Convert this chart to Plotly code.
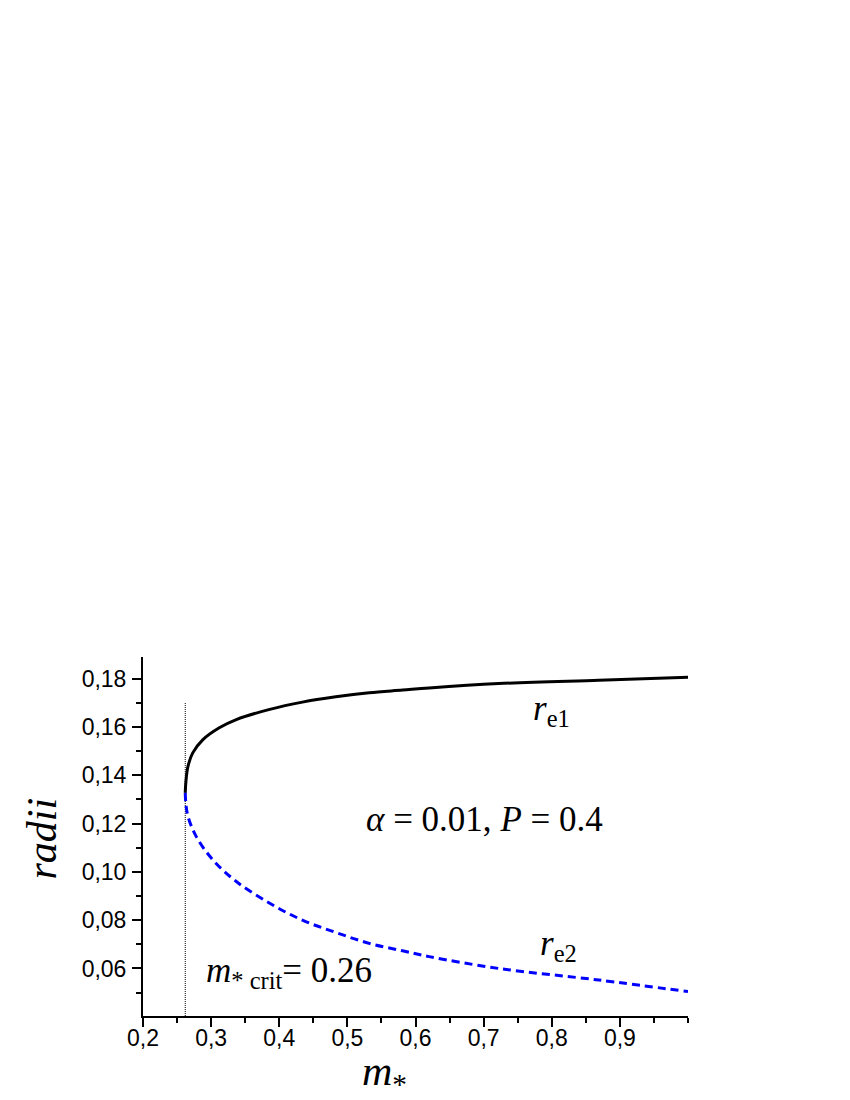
import plotly.graph_objects as go

# values
m_e1 = [0.262, 0.263, 0.266, 0.273, 0.288, 0.312, 0.337, 0.386, 0.434, 0.483,
        0.532, 0.581, 0.620, 0.722, 0.869, 1.0]
r_e1 = [0.1327, 0.1375, 0.1437, 0.1493, 0.1548, 0.1597, 0.1631, 0.1673, 0.1703,
        0.1725, 0.1742, 0.1753, 0.1762, 0.1780, 0.1794, 0.1806]

m_e2 = [0.262, 0.263, 0.266, 0.278, 0.3025, 0.337, 0.386, 0.434, 0.483, 0.532,
        0.581, 0.620, 0.722, 0.869, 1.0]
r_e2 = [0.1327, 0.1280, 0.1230, 0.1147, 0.1050, 0.0960, 0.0870, 0.0800, 0.0749,
        0.0704, 0.0673, 0.0649, 0.0600, 0.0552, 0.0504]

m_crit = [0.262, 0.262]
crit_line = [0.0403, 0.170]

x_ticks = [0.2, 0.3, 0.4, 0.5, 0.6, 0.7, 0.8, 0.9]
x_labels = ["0,2", "0,3", "0,4", "0,5", "0,6", "0,7", "0,8", "0,9"]
y_ticks = [0.06, 0.08, 0.10, 0.12, 0.14, 0.16, 0.18]
y_labels = ["0,06", "0,08", "0,10", "0,12", "0,14", "0,16", "0,18"]

serif = "Liberation Serif, Times New Roman, serif"
sans = "Liberation Sans, Arial, sans-serif"

fig = go.Figure()
fig.add_trace(go.Scatter(x=m_crit, y=crit_line, mode="lines",
                         line=dict(color="black", width=1, dash="1px,1px")))
fig.add_trace(go.Scatter(x=m_e1, y=r_e1, mode="lines", line_shape="spline",
                         line=dict(color="black", width=3)))
fig.add_trace(go.Scatter(x=m_e2, y=r_e2, mode="lines", line_shape="spline",
                         line=dict(color="#0000ff", width=3, dash="8px,5px")))

axis_common = dict(showline=True, linecolor="black", linewidth=2, ticks="outside",
                   ticklen=9, tickwidth=1.5, tickcolor="black", showgrid=False,
                   zeroline=False, mirror=False, automargin=False,
                   tickfont=dict(family=sans, size=23, color="black"))

fig.update_xaxes(range=[0.2, 1.0], tickvals=x_ticks, ticktext=x_labels,
                 ticklabelstandoff=-9,
                 minor=dict(ticks="outside", ticklen=5, tickwidth=1.5,
                            tickcolor="black", dtick=0.05, tick0=0.2),
                 **axis_common)
fig.update_yaxes(range=[0.0403, 0.189], tickvals=y_ticks, ticktext=y_labels,
                 ticklabelstandoff=1,
                 minor=dict(ticks="outside", ticklen=5, tickwidth=1.5,
                            tickcolor="black", dtick=0.01, tick0=0.0),
                 **axis_common)

title_font = dict(family=serif, size=42, color="black")
fig.add_annotation(xref="paper", yref="paper", x=0.444, y=0, yshift=-58,
                   text="<i>m</i><sub>*</sub>", showarrow=False,
                   xanchor="center", yanchor="middle", font=title_font)
fig.add_annotation(xref="paper", yref="paper", x=-0.185, y=0.495,
                   text="<i>radii</i>", textangle=-90, showarrow=False,
                   xanchor="center", yanchor="middle", font=title_font)

ann_font = dict(family=serif, size=35, color="black")
fig.add_annotation(x=0.5246, y=0.1216, text="<i>α</i> = 0.01, <i>P</i> = 0.4",
                   showarrow=False, xanchor="left", yanchor="middle", font=ann_font)
fig.add_annotation(x=0.770, y=0.167, text="<i>r</i><sub>e1</sub>",
                   showarrow=False, xanchor="left", yanchor="middle", font=ann_font)
fig.add_annotation(x=0.780, y=0.0695, text="<i>r</i><sub>e2</sub>",
                   showarrow=False, xanchor="left", yanchor="middle", font=ann_font)
fig.add_annotation(x=0.2898, y=0.0585, text="<i>m</i><sub>* crit</sub>= 0.26",
                   showarrow=False, xanchor="left", yanchor="middle", font=ann_font)

# the page body adds an 8px offset, so size the figure to fit the window
fig.update_layout(width=842, height=1092, showlegend=False,
                  plot_bgcolor="white", paper_bgcolor="white",
                  margin=dict(l=135, r=162, t=649, b=84))

fig.write_html("out.html")
